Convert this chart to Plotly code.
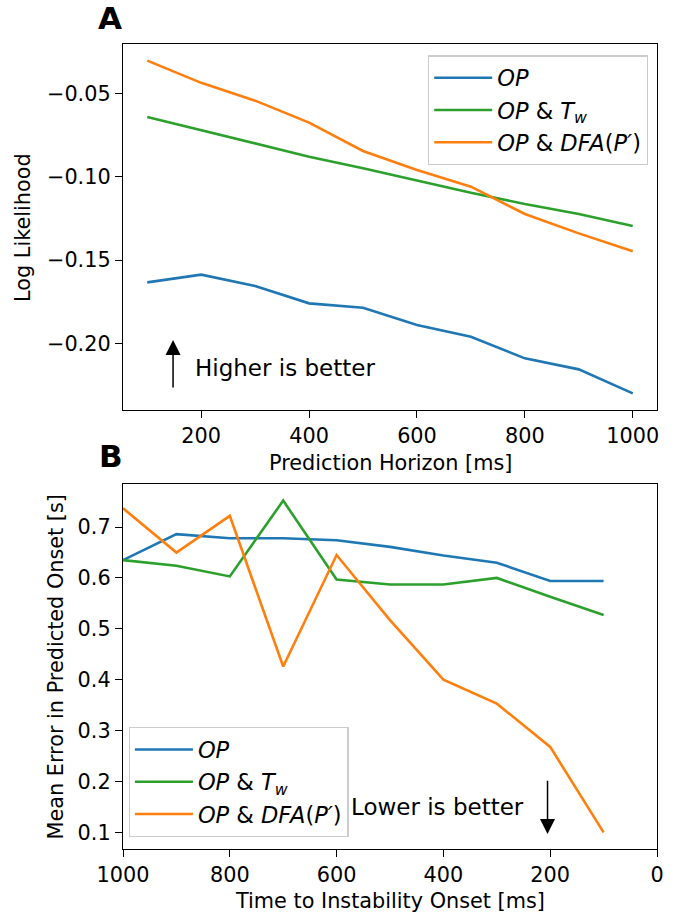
import plotly.graph_objects as go

# ---- data ----
horizon = [100, 200, 300, 400, 500, 600, 700, 800, 900, 1000]
ll_op = [-0.1634, -0.1588, -0.1656, -0.1760, -0.1786, -0.1890, -0.1960, -0.2090, -0.2156, -0.2300]
ll_op_tw = [-0.0642, -0.0720, -0.0800, -0.0880, -0.0950, -0.1024, -0.1096, -0.1164, -0.1224, -0.1296]
ll_op_dfa = [-0.0304, -0.0437, -0.0544, -0.0676, -0.0846, -0.0960, -0.1060, -0.1224, -0.1340, -0.1448]

onset = [1000, 900, 800, 700, 600, 500, 400, 300, 200, 100]
err_op = [0.635, 0.686, 0.678, 0.678, 0.674, 0.661, 0.644, 0.630, 0.594, 0.594]
err_op_tw = [0.635, 0.624, 0.603, 0.752, 0.597, 0.587, 0.587, 0.600, 0.563, 0.527]
err_op_dfa = [0.737, 0.650, 0.722, 0.426, 0.645, 0.517, 0.400, 0.353, 0.268, 0.100]

names = ["<i>OP</i>", "<i>OP</i> & <i>T<sub>w</sub></i>", "<i>OP</i> & <i>DFA</i>(<i>P′</i>)"]
colors = ["#1f77b4", "#2ca02c", "#ff7f0e"]

top_yticks = [-0.20, -0.15, -0.10, -0.05]
top_yticklabels = ["−0.20", "−0.15", "−0.10", "−0.05"]
top_xticks = [200, 400, 600, 800, 1000]
bot_xticks = [1000, 800, 600, 400, 200, 0]
bot_yticks = [0.1, 0.2, 0.3, 0.4, 0.5, 0.6, 0.7]

FONT = "DejaVu Sans"
FS = 20.8
FS_TXT = 23
FS_LEG = 22.5
LW = 2.6

fig = go.Figure()
for vals, nm, c in zip([ll_op, ll_op_tw, ll_op_dfa], names, colors):
    fig.add_trace(go.Scatter(x=horizon, y=vals, mode="lines", name=nm,
                             line=dict(color=c, width=LW), xaxis="x", yaxis="y",
                             legend="legend"))
for vals, nm, c in zip([err_op, err_op_tw, err_op_dfa], names, colors):
    fig.add_trace(go.Scatter(x=onset, y=vals, mode="lines", name=nm,
                             line=dict(color=c, width=LW), xaxis="x2", yaxis="y2",
                             legend="legend2"))

axis_common = dict(showline=True, linecolor="black", linewidth=1.3, mirror=True,
                   ticks="outside", ticklen=7, tickwidth=1.3, tickcolor="black",
                   showgrid=False, zeroline=False, automargin=False,
                   tickfont=dict(family=FONT, size=FS, color="black"))

legend_common = dict(bordercolor="#cccccc", borderwidth=1.3, bgcolor="rgba(255,255,255,0.8)",
                     font=dict(family=FONT, size=FS_LEG, color="black"), itemwidth=58,
                     tracegroupgap=0)

fig.update_layout(
    width=681, height=917,
    margin=dict(l=123, r=24, t=44, b=68, autoexpand=False),
    paper_bgcolor="white", plot_bgcolor="white",
    font=dict(family=FONT, size=FS, color="black"),
    xaxis=dict(domain=[0, 1], anchor="y", range=[55, 1045], tickvals=top_xticks, **axis_common),
    yaxis=dict(domain=[0.5453, 1], anchor="x", range=[-0.2400, -0.0204],
               tickvals=top_yticks, ticktext=top_yticklabels, **axis_common),
    xaxis2=dict(domain=[0, 1], anchor="y2", range=[1000, 0], tickvals=bot_xticks, **axis_common),
    yaxis2=dict(domain=[0, 0.4534], anchor="x2", range=[0.0673, 0.7846],
                tickvals=bot_yticks, ticktext=[f"{v:.1f}" for v in bot_yticks], **axis_common),
    legend=dict(x=0.983, y=0.986, xanchor="right", yanchor="top", **legend_common),
    legend2=dict(x=0.0105, y=0.0149, xanchor="left", yanchor="bottom", **legend_common),
    showlegend=True,
)

annots = [
    # panel letters
    dict(text="<b>A</b>", x=-0.0243, y=1.032, xref="paper", yref="paper",
         showarrow=False, font=dict(family=FONT, size=31, color="black"),
         xanchor="center", yanchor="middle"),
    dict(text="<b>B</b>", x=-0.0225, y=0.488, xref="paper", yref="paper",
         showarrow=False, font=dict(family=FONT, size=31, color="black"),
         xanchor="center", yanchor="middle"),
    # axis titles
    dict(text="Prediction Horizon [ms]", x=0.5, y=0.4795, xref="paper", yref="paper",
         showarrow=False, xanchor="center", yanchor="middle"),
    dict(text="Time to Instability Onset [ms]", x=0.5, y=-0.0640, xref="paper", yref="paper",
         showarrow=False, xanchor="center", yanchor="middle"),
    dict(text="Log Likelihood", x=-0.1873, y=0.7727, xref="paper", yref="paper",
         showarrow=False, textangle=-90, xanchor="center", yanchor="middle"),
    dict(text="Mean Error in Predicted Onset [s]", x=-0.1255, y=0.2267, xref="paper", yref="paper",
         showarrow=False, textangle=-90, xanchor="center", yanchor="middle"),
    # texts
    dict(text="Higher is better", x=184, y=-0.2148, xref="x", yref="y",
         showarrow=False, xanchor="left", yanchor="middle",
         font=dict(family=FONT, size=FS_TXT, color="black")),
    dict(text="Lower is better", x=246, y=0.149, xref="x2", yref="y2",
         showarrow=False, xanchor="right", yanchor="middle",
         font=dict(family=FONT, size=FS_TXT, color="black")),
    # arrows
    dict(text="", x=147.8, y=-0.198, ax=147.8, ay=-0.2274, xref="x", yref="y",
         axref="x", ayref="y", showarrow=True, arrowhead=2, arrowsize=2,
         arrowwidth=1.5, arrowcolor="black"),
    dict(text="", x=205, y=0.0966, ax=205, ay=0.2042, xref="x2", yref="y2",
         axref="x2", ayref="y2", showarrow=True, arrowhead=2, arrowsize=2,
         arrowwidth=1.5, arrowcolor="black"),
]
fig.update_layout(annotations=annots)

fig.write_html("out.html", config={"displayModeBar": False},
               post_script="document.body.style.margin='0';document.body.style.overflow='hidden';")
